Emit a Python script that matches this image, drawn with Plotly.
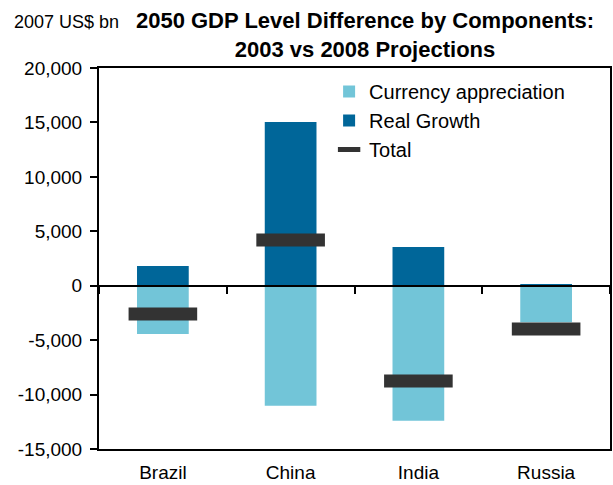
import plotly.graph_objects as go

categories = ["Brazil", "China", "India", "Russia"]
real_growth = [1800, 15050, 3550, 150]
currency_appreciation = [-4430, -11030, -12400, -3350]
total = [-2600, 4200, -8750, -3980]

y_tickvals = [-15000, -10000, -5000, 0, 5000, 10000, 15000, 20000]
y_ticktext = ["-15,000", "-10,000", "-5,000", "0", "5,000", "10,000", "15,000", "20,000"]

LIGHT = "#72C5D8"
DARK = "#006699"
TOTAL = "#333333"
FONT = "Liberation Sans, Arial, sans-serif"

fig = go.Figure()
fig.add_trace(go.Bar(x=categories, y=currency_appreciation, name="Currency appreciation",
                     marker=dict(color=LIGHT, line=dict(width=0)), width=0.405))
fig.add_trace(go.Bar(x=categories, y=real_growth, name="Real Growth",
                     marker=dict(color=DARK, line=dict(width=0)), width=0.405))
fig.add_trace(go.Scatter(x=categories, y=total, name="Total", mode="markers",
                         xaxis="x2", yaxis="y",
                         marker=dict(symbol="line-ew", size=49,
                                     line=dict(width=13, color=TOTAL), color=TOTAL)))

ymin, ymax = -15000, 20000
fig.update_layout(
    width=613, height=485,
    margin=dict(l=99, r=1, t=68, b=36),
    paper_bgcolor="white", plot_bgcolor="white",
    barmode="relative",
    font=dict(family=FONT, color="black", size=19),
    title=dict(text="<b>2050 GDP Level Difference by Components:<br>2003 vs 2008 Projections</b>",
               x=365/613, xanchor="center", xref="container",
               y=1 - 28/485, yanchor="top", yref="container",
               font=dict(family=FONT, size=22, color="black")),
    showlegend=True,
    legend=dict(x=(330-99)/513, y=(449-72)/381, xanchor="left", yanchor="top",
                bgcolor="rgba(0,0,0,0)", font=dict(size=20, family=FONT),
                traceorder="normal", itemsizing="trace"),
    xaxis=dict(type="category", categoryarray=categories, range=[-0.5, 3.5],
               showline=True, mirror=True, linecolor="black", linewidth=2,
               ticks="", showgrid=False, tickfont=dict(size=19), ticklabelstandoff=5),
    xaxis2=dict(type="category", categoryarray=categories, range=[-0.5, 3.5],
                overlaying="x", anchor="free", position=(0 - ymin) / (ymax - ymin),
                showline=True, linecolor="black", linewidth=2,
                ticks="outside", tickson="boundaries", ticklen=7, tickwidth=2,
                tickcolor="black", showticklabels=False, showgrid=False),
    yaxis=dict(range=[ymin, ymax], tickvals=y_tickvals, ticktext=y_ticktext,
               showline=True, mirror=True, linecolor="black", linewidth=2,
               ticks="outside", ticklen=7, tickwidth=2, tickcolor="black",
               showgrid=False, zeroline=False, tickfont=dict(size=19), ticklabelstandoff=4),
)

fig.add_annotation(text="2007 US$ bn", xref="paper", yref="paper",
                   x=(12-99)/513, y=(449-22)/381, xanchor="left", yanchor="middle",
                   showarrow=False, font=dict(size=18, family=FONT, color="black"))

fig.write_html("out.html", config={"displayModeBar": False},
               post_script="document.body.style.margin='0px';")
